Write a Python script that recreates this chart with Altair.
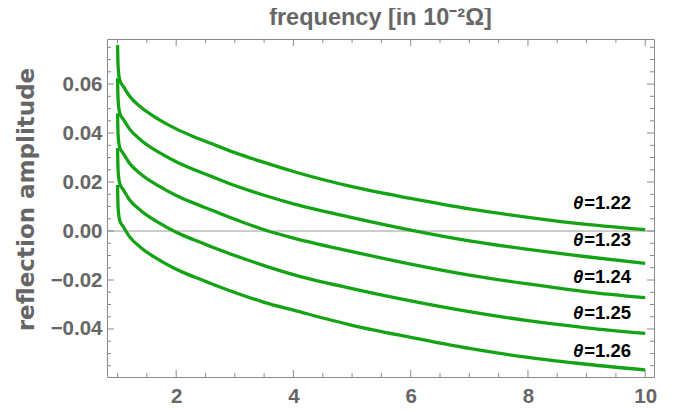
import altair as alt
import pandas as pd

# frequency grid (in 10^-2 Omega)
freq = [1.0, 1.005, 1.015, 1.04, 1.1, 1.2, 1.4, 1.7, 2.0, 2.3, 2.6, 3.0, 3.5, 4.0, 5.0, 6.0, 7.0, 8.0, 9.0, 10.0]

thetas = ["1.22", "1.23", "1.24", "1.25", "1.26"]
amp_122 = [0.0760, 0.0700, 0.0650, 0.0615, 0.0590, 0.0552, 0.0505, 0.0456, 0.0417, 0.0385, 0.0357, 0.0320, 0.0280, 0.0243, 0.0181, 0.0133, 0.0090, 0.0056, 0.0027, 0.0006]
amp_123 = [0.0624, 0.0565, 0.0515, 0.0480, 0.0456, 0.0418, 0.0371, 0.0322, 0.0283, 0.0251, 0.0223, 0.0186, 0.0146, 0.0111, 0.0055, 0.0004, -0.0040, -0.0075, -0.0105, -0.0132]
amp_124 = [0.0480, 0.0422, 0.0373, 0.0339, 0.0316, 0.0278, 0.0232, 0.0184, 0.0145, 0.0114, 0.0086, 0.0048, 0.0005, -0.0029, -0.0084, -0.0135, -0.0180, -0.0216, -0.0248, -0.0272]
amp_125 = [0.0339, 0.0278, 0.0228, 0.0192, 0.0168, 0.0129, 0.0083, 0.0034, -0.0005, -0.0036, -0.0064, -0.0100, -0.0141, -0.0178, -0.0235, -0.0285, -0.0329, -0.0366, -0.0395, -0.0418]
amp_126 = [0.0188, 0.0127, 0.0077, 0.0041, 0.0017, -0.0022, -0.0068, -0.0117, -0.0156, -0.0187, -0.0215, -0.0251, -0.0291, -0.0323, -0.0385, -0.0434, -0.0479, -0.0516, -0.0544, -0.0567]
series = [amp_122, amp_123, amp_124, amp_125, amp_126]

# curve label anchors (data coordinates)
label_x = [8.96, 8.96, 8.96, 8.96, 8.96]
label_y = [0.0089, -0.0061, -0.0211, -0.0360, -0.0513]

# ticks
x_major = [2, 4, 6, 8, 10]
x_minor = [1, 1.5, 2.5, 3, 3.5, 4.5, 5, 5.5, 6.5, 7, 7.5, 8.5, 9, 9.5]
y_major = [-0.04, -0.02, 0.0, 0.02, 0.04, 0.06]
y_minor = [-0.055, -0.05, -0.045, -0.035, -0.03, -0.025, -0.015, -0.01, -0.005,
           0.005, 0.01, 0.015, 0.025, 0.03, 0.035, 0.045, 0.05, 0.055, 0.065, 0.07, 0.075]

W, H = 547, 338
FONT = "Liberation Sans"
GRAY = "#666666"
FRAME = "#8a8a8a"
GREEN = "#14a314"

rows = []
for t, vals in zip(thetas, series):
    for f, v in zip(freq, vals):
        rows.append({"freq": f, "amp": v, "theta": t})
df = pd.DataFrame(rows)

xs = alt.Scale(domain=[0.82, 10.15], nice=False, zero=False)
ys = alt.Scale(domain=[-0.0596, 0.0784], nice=False, zero=False)

base_x = alt.X("freq:Q", scale=xs,
               axis=alt.Axis(values=x_major, ticks=False, domain=False, grid=False,
                             labelFont=FONT, labelFontSize=20.5, labelFontWeight="bold",
                             labelColor=GRAY, labelPadding=9, title=None, format="d"))
base_y = alt.Y("amp:Q", scale=ys,
               axis=alt.Axis(values=y_major, ticks=False, domain=False, grid=False,
                             labelFont=FONT, labelFontSize=20.5, labelFontWeight="bold",
                             labelColor=GRAY, labelPadding=5, format=".2f",
                             title="reflection amplitude", titleFont="DejaVu Sans",
                             titleFontSize=23, titleFontWeight="bold", titleColor=GRAY,
                             titleX=-81, titleY=160, titleAngle=270,
                             titleBaseline="middle", titleAlign="center"))

zero = alt.Chart(pd.DataFrame({"amp": [0.0]})).mark_rule(color="#9a9a9a", strokeWidth=1).encode(
    y=alt.Y("amp:Q", scale=ys))

curves = alt.Chart(df).mark_line(color=GREEN, strokeWidth=3.3, interpolate="monotone").encode(
    x=base_x, y=base_y, detail="theta:N")

lab = pd.DataFrame({"lx": label_x, "ly": label_y,
                    "num": ["=" + t for t in thetas], "th": ["θ"] * len(thetas)})
txt_num = alt.Chart(lab).mark_text(align="left", baseline="alphabetic", font=FONT,
                                   fontSize=18.5, fontWeight="bold", color="black").encode(
    x=alt.X("lx:Q", scale=xs), y=alt.Y("ly:Q", scale=ys), text="num:N")
txt_th = alt.Chart(lab).mark_text(align="right", baseline="alphabetic", font=FONT,
                                  fontSize=18.5, fontWeight="bold", fontStyle="italic",
                                  color="black", dx=-1).encode(
    x=alt.X("lx:Q", scale=xs), y=alt.Y("ly:Q", scale=ys), text="th:N")

def xticks(vals, length):
    d = pd.DataFrame({"freq": vals})
    bot = alt.Chart(d).mark_rule(color=FRAME, strokeWidth=1).encode(
        x=alt.X("freq:Q", scale=xs), y=alt.value(H), y2=alt.value(H - length))
    top = alt.Chart(d).mark_rule(color=FRAME, strokeWidth=1).encode(
        x=alt.X("freq:Q", scale=xs), y=alt.value(0), y2=alt.value(length))
    return [bot, top]

def yticks(vals, length):
    d = pd.DataFrame({"amp": vals})
    lft = alt.Chart(d).mark_rule(color=FRAME, strokeWidth=1).encode(
        y=alt.Y("amp:Q", scale=ys), x=alt.value(0), x2=alt.value(length))
    rgt = alt.Chart(d).mark_rule(color=FRAME, strokeWidth=1).encode(
        y=alt.Y("amp:Q", scale=ys), x=alt.value(W), x2=alt.value(W - length))
    return [lft, rgt]

layers = [zero] + xticks(x_major, 7) + xticks(x_minor, 4) + yticks(y_major, 7) + yticks(y_minor, 4) + [curves, txt_th, txt_num]

chart = alt.layer(*layers).properties(
    width=W, height=H,
    autosize=alt.AutoSizeParams(type="none"),
    padding={"left": 99, "top": 31, "right": 17, "bottom": 29},
    title=alt.TitleParams("frequency [in 10⁻²Ω]", font=FONT, fontSize=23.5,
                          fontWeight="bold", color=GRAY, frame="group",
                          anchor="middle", offset=9),
).configure_view(stroke=FRAME, strokeWidth=1)

chart.save("out.html", embed_options={"renderer": "svg", "actions": False})
